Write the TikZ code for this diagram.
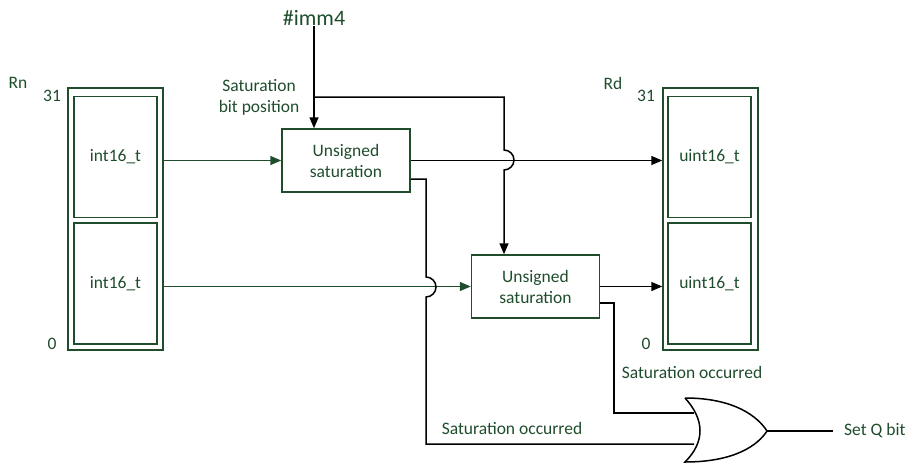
\documentclass[tikz,border=0pt]{standalone}
\usepackage{fontspec}
\setmainfont{Carlito}
\usetikzlibrary{arrows.meta}
\definecolor{dg}{HTML}{1F4D2C}
\tikzset{
  reg/.style={draw=dg,line width=1.5pt,inner sep=0pt,minimum width=95pt,minimum height=262pt},
  half/.style={draw=dg,line width=1.5pt,inner sep=0pt,minimum width=83pt,minimum height=121pt,text=dg,font=\fontsize{17.5}{21}\selectfont},
  satbox/.style={draw=dg,line width=1.5pt,inner sep=0pt,minimum width=128pt,minimum height=63pt,text=dg,align=center,font=\fontsize{17.5}{21}\selectfont},
  lbl/.style={text=dg,inner sep=0pt,font=\fontsize{17.5}{21}\selectfont},
  wire/.style={line width=1.5pt,black},
  gwire/.style={line width=1.5pt,dg},
  arr/.style={-{Triangle[length=11pt,width=9pt]}},
}
\begin{document}
\begin{tikzpicture}[x=1pt,y=-1pt]
\useasboundingbox (0,0) rectangle (909,463);
% registers
\node[reg] (rn) at (115.5,219) {};
\node[half] (rnhi) at (115.5,157) {int16\_t};
\node[half] (rnlo) at (115.5,283.5) {int16\_t};
\node[lbl] (rnlab) at (18,83) {Rn};
\node[lbl] (rn31) at (52,96) {31};
\node[lbl] (rn0) at (52,344) {0};
\node[reg] (rd) at (710.5,219) {};
\node[half] (rdhi) at (709.5,157) {uint16\_t};
\node[half] (rdlo) at (709.5,283.5) {uint16\_t};
\node[lbl] (rdlab) at (613,83) {Rd};
\node[lbl] (rd31) at (646,96) {31};
\node[lbl] (rd0) at (646,344) {0};
% saturation boxes
\node[satbox] (sat1) at (346,160.5) {Unsigned\\saturation};
\node[satbox] (sat2) at (535.5,286.5) {Unsigned\\saturation};
\node[lbl,align=center] (sbp) at (259,97.5) {Saturation\\bit position};
\node[text=dg,inner sep=0pt,font=\fontsize{22}{26}\selectfont] (imm) at (314,18) {\#imm4};
\node[lbl] (so1) at (692,372) {Saturation occurred};
\node[lbl] (so2) at (512,428) {Saturation occurred};
\node[lbl,anchor=west] (setq) at (844,431) {Set Q bit};
% OR gate
\draw[wire] (685,398) .. controls (705,420) and (705,442) .. (685,462)
  .. controls (735,462) and (758,445) .. (767,431)
  .. controls (758,417) and (735,398) .. (685,398);
\coordinate (orin1) at (694,413);
\coordinate (orin2) at (694,444);
\coordinate (orout) at (767,431);
\coordinate (qend) at (833,431);
% connectors
\draw[gwire,arr] (rn.east |- sat1) -- (sat1.west);
\draw[gwire,arr] (rn.east |- sat2) -- (sat2.west);
\draw[wire,arr] (imm.south) -- (sat1.north -| imm);
\draw[wire,arr] (314,97) -- (504,97) -- (504,150) arc[start angle=-90,end angle=90,radius=10] -- (sat2.north -| 504,0);
\draw[wire,arr] (sat1.east) -- (rd.west |- sat1);
\draw[wire,arr] (sat2.east) -- (rd.west |- sat2);
\draw[wire] (sat1.east |- 0,179) -- (426,179) -- (426,277) arc[start angle=-90,end angle=90,radius=10] -- (426,444) -- (orin2);
\draw[wire] (sat2.east |- 0,303) -- (614,303) -- (614,413) -- (orin1);
\draw[wire] (orout) -- (qend);
\end{tikzpicture}
\end{document}
